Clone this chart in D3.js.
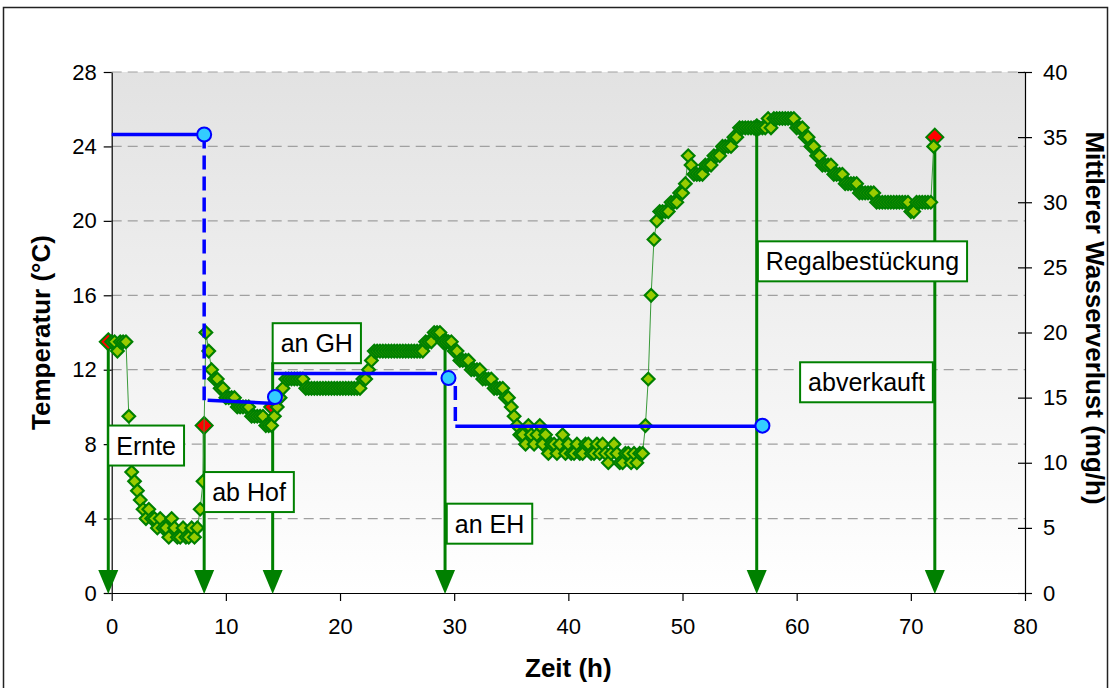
<!doctype html>
<html lang="de">

<head>
    <meta charset="utf-8">
    <title>Temperatur und Wasserverlust</title>
    <style>
        body {
            margin: 0;
            background-color: white;
            font-family: 'Liberation Sans', Arial, sans-serif;
        }

        svg {
            display: block;
        }

        .axis text {
            font-family: 'Liberation Sans', Arial, sans-serif;
            font-size: 22px;
            fill: #000;
        }

        .axis path,
        .axis line {
            stroke: #000;
            stroke-width: 1.2px;
        }

        .axis-title {
            font-family: 'Liberation Sans', Arial, sans-serif;
            font-size: 26px;
            font-weight: bold;
        }

        .callout text {
            font-size: 25px;
        }
    </style>
</head>

<body>
    <svg id="chart" width="1112" height="688"></svg>
    <script src="https://cdn.jsdelivr.net/npm/d3@7"></script>
    <script>
        // logger readings, one every 15 minutes from hour 0
        var sampleStepH = 0.25;
        var tempC = [
            13.5, 13.5, 13, 13.5,     // 0 h
            13.5, 13.5, 9.5, 6.5,     // 1
            6, 5.5, 5, 4.5,           // 2
            4, 4.5, 4, 4,             // 3
            3.5, 4, 3.5, 3.5,         // 4
            3, 4, 3.5, 3,             // 5
            3, 3.5, 3, 3,             // 6
            3.5, 3, 3.5, 4.5,         // 7
            6, 14, 13, 12,            // 8
            11.5, 11.5, 11, 11,       // 9
            10.5, 10.5, 10.5, 10.5,   // 10
            10, 10, 10, 10,           // 11
            10, 9.5, 9.5, 9.5,        // 12
            9.5, 9.5, 9, 9,           // 13
            9, 9.5, 10, 10.5,         // 14
            11, 11.5, 11.5, 11.5,     // 15
            11.5, 11.5, 11.5, 11.5,   // 16
            11, 11, 11, 11,           // 17
            11, 11, 11, 11,           // 18
            11, 11, 11, 11,           // 19
            11, 11, 11, 11,           // 20
            11, 11, 11, 11,           // 21
            11.5, 11.5, 12, 12.5,     // 22
            13, 13, 13, 13,           // 23
            13, 13, 13, 13,           // 24
            13, 13, 13, 13,           // 25
            13, 13, 13, 13,           // 26
            13, 13, 13.5, 13.5,       // 27
            13.5, 14, 14, 14,         // 28
            13.5, 13.5, 13.5, 13.5,   // 29
            13, 13, 12.5, 12.5,       // 30
            12.5, 12.5, 12, 12,       // 31
            12, 12, 11.5, 11.5,       // 32
            11.5, 11.5, 11, 11,       // 33
            11, 11, 10.5, 10.5,       // 34
            10, 9.5, 9, 8.5,          // 35
            8.5, 8, 9, 8.5,           // 36
            8, 8.5, 9, 8,             // 37
            8.5, 7.5, 8, 8,           // 38
            7.5, 8, 8.5, 7.5,         // 39
            8, 7.5, 7.5, 8,           // 40
            7.5, 7.5, 8, 8,           // 41
            7.5, 7.5, 8, 7.5,         // 42
            8, 7.5, 7, 7.5,           // 43
            8, 7.5, 7, 7,             // 44
            7.5, 7.5, 7, 7.5,         // 45
            7, 7.5, 7.5, 9,           // 46
            11.5, 16, 19, 20,         // 47
            20.5, 20.5, 20.5, 20.5,   // 48
            21, 21, 21, 21.5,         // 49
            21.5, 22, 23.5, 23,       // 50
            22.5, 22.5, 22.5, 22.5,   // 51
            23, 23, 23, 23.5,         // 52
            23.5, 23.5, 24, 24,       // 53
            24, 24, 24.5, 24.5,       // 54
            25, 25, 25, 25,           // 55
            25, 25, 25, 25,           // 56
            25, 25, 25.5, 25,         // 57
            25.5, 25.5, 25.5, 25.5,   // 58
            25.5, 25.5, 25.5, 25.5,   // 59
            25, 25, 25, 24.5,         // 60
            24.5, 24, 24, 23.5,       // 61
            23.5, 23, 23, 23,         // 62
            23, 22.5, 22.5, 22.5,     // 63
            22.5, 22, 22, 22,         // 64
            22, 22, 21.5, 21.5,       // 65
            21.5, 21.5, 21.5, 21.5,   // 66
            21, 21, 21, 21,           // 67
            21, 21, 21, 21,           // 68
            21, 21, 21, 21,           // 69
            20.5, 20.5, 21, 21,       // 70
            21, 21, 21, 21,           // 71
            24                        // 72
        ];

        // events along the chain
        var eventNames = ["Ernte", "ab Hof", "an GH", "an EH", "Regalbestückung", "abverkauft"];
        var eventHours = [-0.3, 8.1, 14.1, 29.2, 56.5, 72.1];
        var eventTemp = [13.5, 9, 10, 13.5, 25, 24.5];
        var arrowTopTemp = [13.5, 9, 12.4, 13.5, 25, 24.5];
        var labelHour = [-0.3, 8.1, 14.1, 29.35, 56.6, 60.3];
        var labelTemp = [9.0, 6.5, 14.5, 4.8, 18.9, 12.4];

        // mean water loss (mg/h), right axis
        var lossPointH = [8.1, 14.3, 29.5, 57];
        var lossPointV = [35.2, 15.05, 16.5, 12.85];
        var lossLevelFromH = [0, 8.4, 14.2, 30.1];
        var lossLevelToH = [8.1, 14.3, 28.5, 56.6];
        var lossLevelFromV = [35.2, 14.8, 16.85, 12.8];
        var lossLevelToV = [35.2, 14.55, 16.85, 12.8];
        var lossDropH = [8.1, 30.1];
        var lossDropFromV = [35.2, 15.9];
        var lossDropToV = [14.8, 12.8];

        var tempTicks = [0, 4, 8, 12, 16, 20, 24, 28];
        var lossTicks = [0, 5, 10, 15, 20, 25, 30, 35, 40];
        var hourTicks = [0, 10, 20, 30, 40, 50, 60, 70, 80];

        var green = "#008000";
        var lime = "#99cc00";

        var svg = d3.select("#chart");

        var x = d3.scaleLinear().domain([0, 80]).range([111.7, 1025]);
        var yT = d3.scaleLinear().domain([0, 28]).range([593, 72]);
        var yL = d3.scaleLinear().domain([0, 40]).range([593, 72]);

        // outer frame
        svg.append("rect")
            .attr("x", 3.5).attr("y", 7.5)
            .attr("width", 1104).attr("height", 700)
            .attr("fill", "white")
            .attr("stroke", "#222")
            .attr("stroke-width", 1.5);

        // plot background gradient
        var grad = svg.append("defs").append("linearGradient")
            .attr("id", "plotbg")
            .attr("x1", 0).attr("y1", 0).attr("x2", 0).attr("y2", 1);
        grad.append("stop").attr("offset", "0%").attr("stop-color", "#e2e2e2");
        grad.append("stop").attr("offset", "100%").attr("stop-color", "#ffffff");

        svg.append("rect")
            .attr("x", x(0)).attr("y", yT(28))
            .attr("width", x(80) - x(0)).attr("height", yT(0) - yT(28))
            .attr("fill", "url(#plotbg)");

        // dashed grid
        svg.append("g")
            .selectAll("line")
            .data(tempTicks.filter(function (d) { return d > 0 }))
            .join("line")
            .attr("x1", x(0)).attr("x2", x(80))
            .attr("y1", function (d) { return yT(d) })
            .attr("y2", function (d) { return yT(d) })
            .attr("stroke", "#a0a0a0")
            .attr("stroke-width", 1.2)
            .attr("stroke-dasharray", "10,6");

        // axes
        svg.append("g")
            .attr("class", "axis")
            .attr("transform", "translate(" + x(0) + ",0)")
            .call(d3.axisLeft(yT).tickValues(tempTicks).tickSizeInner(8).tickSizeOuter(0).tickPadding(7));

        var gRight = svg.append("g")
            .attr("class", "axis")
            .attr("transform", "translate(" + x(80) + ",0)")
            .call(d3.axisRight(yL).tickValues(lossTicks).tickSizeInner(7).tickSizeOuter(0).tickPadding(11));
        gRight.selectAll(".tick line").attr("x1", -7);

        svg.append("g")
            .attr("class", "axis")
            .attr("transform", "translate(0," + yT(0) + ")")
            .call(d3.axisBottom(x).tickValues(hourTicks).tickSizeInner(8).tickSizeOuter(0).tickPadding(17));

        svg.selectAll(".axis").attr("font-family", null).attr("font-size", null);

        // axis titles
        svg.append("text")
            .attr("class", "axis-title")
            .attr("transform", "translate(50," + ((yT(0) + yT(28)) / 2) + ") rotate(-90)")
            .attr("text-anchor", "middle")
            .text("Temperatur (°C)");

        svg.append("text")
            .attr("class", "axis-title")
            .attr("transform", "translate(1086,318) rotate(90)")
            .attr("text-anchor", "middle")
            .text("Mittlerer Wasserverlust (mg/h)");

        svg.append("text")
            .attr("class", "axis-title")
            .attr("x", (x(0) + x(80)) / 2)
            .attr("y", 677)
            .attr("text-anchor", "middle")
            .text("Zeit (h)");

        // event arrows
        var events = eventHours.map(function (h, i) {
            return { h: h, t: eventTemp[i], top: arrowTopTemp[i], name: eventNames[i], lh: labelHour[i], lt: labelTemp[i] };
        });

        var gArrows = svg.append("g");
        gArrows.selectAll("line")
            .data(events)
            .join("line")
            .attr("x1", function (d) { return x(d.h) })
            .attr("x2", function (d) { return x(d.h) })
            .attr("y1", function (d) { return yT(d.top) })
            .attr("y2", yT(0) - 20)
            .attr("stroke", green)
            .attr("stroke-width", 3);
        gArrows.selectAll("path")
            .data(events)
            .join("path")
            .attr("d", function (d) {
                var cx = x(d.h), by = yT(0);
                return "M" + (cx - 10) + "," + (by - 23) + "L" + (cx + 10) + "," + (by - 23) + "L" + cx + "," + (by + 1) + "Z";
            })
            .attr("fill", green);

        function diamond(r) {
            return "M0," + (-r) + "L" + r + ",0L0," + r + "L" + (-r) + ",0Z";
        }

        // event markers
        svg.append("g")
            .selectAll("path")
            .data(events)
            .join("path")
            .attr("transform", function (d) { return "translate(" + x(d.h) + "," + yT(d.t) + ")" })
            .attr("d", diamond(8.5))
            .attr("fill", "#ff0000")
            .attr("stroke", green)
            .attr("stroke-width", 2);

        // temperature series
        var temps = tempC.map(function (t, i) { return { h: i * sampleStepH, t: t } });

        svg.append("path")
            .datum(temps)
            .attr("fill", "none")
            .attr("stroke", "#3a9a3a")
            .attr("stroke-width", 1)
            .attr("d", d3.line()
                .x(function (d) { return x(d.h) })
                .y(function (d) { return yT(d.t) }));

        svg.append("g")
            .selectAll("path")
            .data(temps)
            .join("path")
            .attr("transform", function (d) { return "translate(" + x(d.h) + "," + yT(d.t) + ")" })
            .attr("d", diamond(6.3))
            .attr("fill", lime)
            .attr("stroke", green)
            .attr("stroke-width", 2.2);

        // water loss levels
        var gLoss = svg.append("g");
        gLoss.selectAll("line.level")
            .data(lossLevelFromH)
            .join("line")
            .attr("class", "level")
            .attr("x1", function (d) { return x(d) })
            .attr("x2", function (d, i) { return x(lossLevelToH[i]) })
            .attr("y1", function (d, i) { return yL(lossLevelFromV[i]) })
            .attr("y2", function (d, i) { return yL(lossLevelToV[i]) })
            .attr("stroke", "#0000ff")
            .attr("stroke-width", 3.5);

        gLoss.selectAll("line.drop")
            .data(lossDropH)
            .join("line")
            .attr("class", "drop")
            .attr("x1", function (d) { return x(d) })
            .attr("x2", function (d) { return x(d) })
            .attr("y1", function (d, i) { return yL(lossDropFromV[i]) })
            .attr("y2", function (d, i) { return yL(lossDropToV[i]) })
            .attr("stroke", "#0000ff")
            .attr("stroke-width", 3.5)
            .attr("stroke-dasharray", "14,7");

        gLoss.selectAll("circle")
            .data(lossPointH)
            .join("circle")
            .attr("cx", function (d) { return x(d) })
            .attr("cy", function (d, i) { return yL(lossPointV[i]) })
            .attr("r", 7)
            .attr("fill", "#33ccff")
            .attr("stroke", "#0000ff")
            .attr("stroke-width", 2);

        // callout boxes
        var callouts = svg.append("g")
            .attr("class", "callout")
            .selectAll("g")
            .data(events)
            .join("g")
            .attr("transform", function (d) { return "translate(" + x(d.lh) + "," + yT(d.lt) + ")" });

        var boxes = callouts.append("rect")
            .attr("height", 40)
            .attr("fill", "white")
            .attr("stroke", green)
            .attr("stroke-width", 2);

        var labels = callouts.append("text")
            .attr("x", 8)
            .attr("y", 29)
            .attr("fill", "#000")
            .text(function (d) { return d.name });

        labels.each(function (d, i) {
            var w = this.getComputedTextLength();
            d3.select(boxes.nodes()[i]).attr("width", w + 16);
        });
    </script>
</body>

</html>
